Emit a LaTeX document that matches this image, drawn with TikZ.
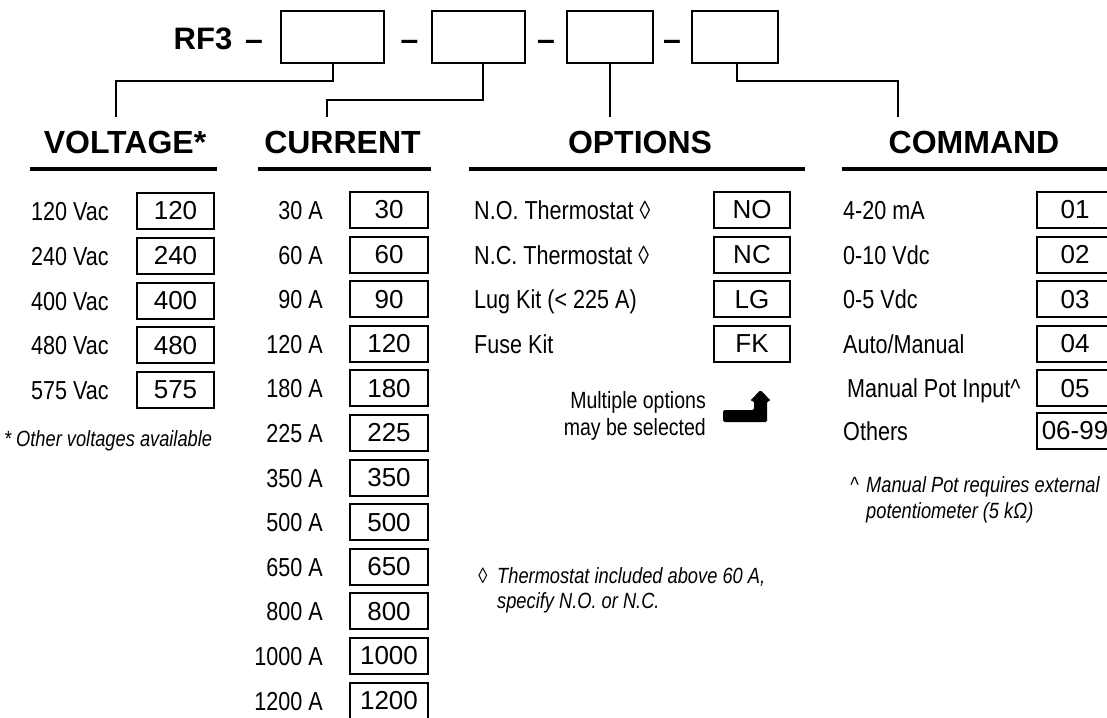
\documentclass[tikz,border=0pt]{standalone}
\usepackage{fontspec}
\setmainfont{Liberation Sans}
\newfontfamily\narrow{Liberation Sans}[FakeStretch=0.83]
\begin{document}
\begin{tikzpicture}[x=1pt,y=-1pt,
  valbox/.style={draw, line width=2pt, minimum width=77pt, minimum height=36pt, inner sep=0pt, font=\fontsize{26}{26}\selectfont},
  lbl/.style={inner sep=0pt, font=\narrow\fontsize{26}{26}\selectfont},
  head/.style={inner sep=0pt, anchor=base, font=\bfseries\fontsize{32}{32}\selectfont},
  note/.style={inner sep=0pt, anchor=base west, font=\narrow\itshape\fontsize{22}{22}\selectfont},
  multi/.style={inner sep=0pt, anchor=base east, font=\narrow\fontsize{23.5}{23.5}\selectfont},
  slot/.style={draw, line width=2pt, minimum height=52pt, inner sep=0pt},
  dashtxt/.style={inner sep=0pt, anchor=base, font=\bfseries\fontsize{32}{32}\selectfont},
  conn/.style={line width=2pt},
  rulebar/.style={line width=4pt}]
\useasboundingbox (0,0) rectangle (1107,717);
\clip (0,0) rectangle (1107,717);
% top row
\node[head, font=\bfseries\fontsize{31}{31}\selectfont] (rf) at (203,50) {RF3};
\node[dashtxt] (d1) at (254,51) {–};
\node[slot, minimum width=103pt] (b1) at (332.5,37) {};
\node[dashtxt] (d2) at (409.5,51) {–};
\node[slot, minimum width=93pt] (b2) at (478.5,37) {};
\node[dashtxt] (d3) at (546,51) {–};
\node[slot, minimum width=86pt] (b3) at (610,37) {};
\node[dashtxt] (d4) at (672,51) {–};
\node[slot, minimum width=86pt] (b4) at (735,37) {};
% headings
\node[head] (hv) at (125,153) {VOLTAGE*};
\node[head] (hc) at (342.5,153) {CURRENT};
\node[head] (ho) at (640,153) {OPTIONS};
\node[head] (hm) at (974,153) {COMMAND};
\draw[rulebar] (30,168.5) -- (217,168.5);
\draw[rulebar] (258,168.5) -- (431,168.5);
\draw[rulebar] (469,168.5) -- (805,168.5);
\draw[rulebar] (842,168.5) -- (1110,168.5);
% connector ends
\coordinate (cv) at (116,117);
\coordinate (cc) at (327,117);
\coordinate (co) at (610,117);
\coordinate (cm) at (898,117);
\draw[conn] (b1.south) -- ++(0,17) -| (cv);
\draw[conn] ([xshift=4.5pt]b2.south) -- ++(0,36) -| (cc);
\draw[conn] (b3.south) -- (co);
\draw[conn] ([xshift=2pt]b4.south) -- ++(0,17) -| (cm);
% voltage
\foreach \i/\lab/\val in {0/120 Vac/120, 1/240 Vac/240, 2/400 Vac/400, 3/480 Vac/480, 4/575 Vac/575} {
  \pgfmathsetmacro\yc{211+44.75*\i}
  \node[valbox] (v\i) at (175.5,\yc) {\val};
  \node[lbl, anchor=base west] (vl\i) at (31,\yc+9.5) {\lab};
}
\node[note] (vs) at (4,446) {*};
\node[note] (vn) at (16,446) {Other voltages available};
% current
\foreach \i/\val in {0/30, 1/60, 2/90, 3/120, 4/180, 5/225, 6/350, 7/500, 8/650, 9/800, 10/1000, 11/1200} {
  \pgfmathsetmacro\yc{210+44.6*\i}
  \node[valbox, minimum width=78pt] (c\i) at (389,\yc) {\val};
  \node[lbl, anchor=base east] (cl\i) at (323,\yc+9.5) {\val\ A};
}
% options
\node[valbox, minimum width=76pt] (o0) at (752,210) {NO};
\node[valbox, minimum width=76pt] (o1) at (752,254.6) {NC};
\node[valbox, minimum width=76pt] (o2) at (752,299.2) {LG};
\node[valbox, minimum width=76pt] (o3) at (752,343.8) {FK};
\node[lbl, anchor=base west] (ol0) at (474,219.5) {N.O. Thermostat ◊};
\node[lbl, anchor=base west] (ol1) at (474,264.1) {N.C. Thermostat ◊};
\node[lbl, anchor=base west] (ol2) at (474,308.7) {Lug Kit (< 225 A)};
\node[lbl, anchor=base west] (ol3) at (474,353.3) {Fuse Kit};
\node[multi] (mo1) at (706,408.5) {Multiple options};
\node[multi] (mo2) at (706,435.5) {may be selected};
\fill[rounded corners=1.5pt] (723,410) -- (754,410) -- (754,401) -- (750,401) -- (760.5,390) -- (771,401) -- (767,401) -- (767,422) -- (723,422) -- cycle;
\node[note] (os) at (478,583) {◊};
\node[note] (on1) at (497,583) {Thermostat included above 60 A,};
\node[note] (on2) at (497,608) {specify N.O. or N.C.};
% command
\node[valbox, minimum width=76pt] (m0) at (1075,210) {01};
\node[valbox, minimum width=76pt] (m1) at (1075,254.6) {02};
\node[valbox, minimum width=76pt] (m2) at (1075,299.2) {03};
\node[valbox, minimum width=76pt] (m3) at (1075,343.8) {04};
\node[valbox, minimum width=76pt] (m4) at (1075,388.4) {05};
\node[valbox, minimum width=76pt] (m5) at (1075,431) {06-99};
\node[lbl, anchor=base west] (ml0) at (843,219.5) {4-20 mA};
\node[lbl, anchor=base west] (ml1) at (843,264.1) {0-10 Vdc};
\node[lbl, anchor=base west] (ml2) at (843,308.7) {0-5 Vdc};
\node[lbl, anchor=base west] (ml3) at (843,353.3) {Auto/Manual};
\node[lbl, anchor=base west] (ml4) at (847,397.9) {Manual Pot Input\textasciicircum};
\node[lbl, anchor=base west] (ml5) at (843,440.5) {Others};
\node[note] (ms) at (850,492) {\textasciicircum};
\node[note] (mn1) at (866,492) {Manual Pot requires external};
\node[note] (mn2) at (866,518) {potentiometer (5 kΩ)};
\end{tikzpicture}
\end{document}
